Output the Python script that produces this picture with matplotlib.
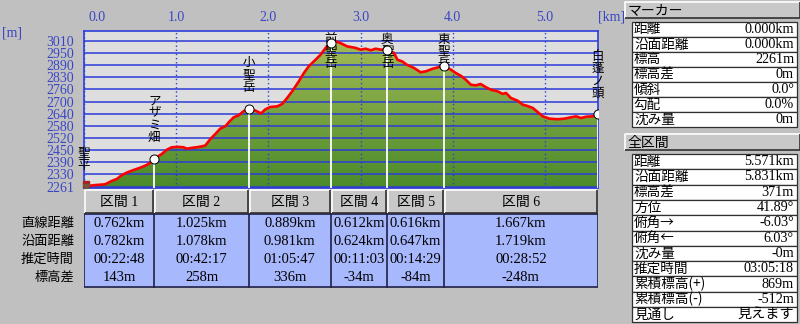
import numpy as np
import matplotlib
matplotlib.use("Agg")
import matplotlib.pyplot as plt
from matplotlib.patches import Rectangle, Polygon
from matplotlib.colors import LinearSegmentedColormap

plt.rcParams['font.family'] = ['Noto Sans CJK JP', 'DejaVu Sans']
SERIF = ['Liberation Serif', 'Noto Sans CJK JP']

# elevation profile (horizontal km, m)
dist = [0.0, 0.10, 0.23, 0.30, 0.355, 0.41, 0.464, 0.536, 0.609, 0.68, 0.736, 0.762,
        0.845, 0.90, 0.953, 1.025, 1.08, 1.115, 1.17, 1.26, 1.315, 1.37, 1.424, 1.478,
        1.533, 1.569, 1.623, 1.677, 1.73, 1.787,
        1.86, 1.92, 1.967, 2.02, 2.094, 2.148, 2.203, 2.257, 2.33, 2.384, 2.438, 2.51,
        2.565, 2.62, 2.676,
        2.728, 2.78, 2.855, 2.946, 3.0, 3.054, 3.11, 3.163, 3.217, 3.288, 3.362, 3.40,
        3.45, 3.50, 3.58, 3.65, 3.707, 3.78, 3.85, 3.904,
        3.98, 4.033, 4.087, 4.14, 4.196, 4.25, 4.30, 4.36, 4.41, 4.486, 4.54, 4.576,
        4.63, 4.703, 4.757, 4.81, 4.866, 4.92, 4.975, 5.047, 5.138, 5.21, 5.28, 5.337,
        5.39, 5.445, 5.518, 5.571]
elev = [2261, 2268, 2273, 2290, 2300, 2320, 2333, 2346, 2358, 2372, 2390, 2404,
        2429, 2451, 2463, 2465, 2463, 2456, 2460, 2466, 2472, 2505, 2531, 2559,
        2571, 2591, 2617, 2627, 2648, 2662,
        2651, 2637, 2658, 2670, 2673, 2685, 2716, 2750, 2802, 2844, 2879, 2912,
        2938, 2973, 2998,
        3007, 2998, 2981, 2973, 2964, 2969, 2961, 2969, 2964, 2966, 2947, 2912,
        2904, 2887, 2870, 2848, 2853, 2866, 2875, 2880,
        2861, 2844, 2830, 2810, 2784, 2781, 2788, 2771, 2759, 2750, 2737, 2742,
        2716, 2702, 2682, 2675, 2665, 2644, 2622, 2610, 2607, 2610, 2617, 2622,
        2613, 2620, 2622, 2632]

# waypoints and sections
wp_names = ['聖平', 'アザミ畑', '小聖岳', '前聖岳', '奥聖岳', '東聖岳', '白蓬ノ頭']
start_elev = 2261
sec_names = ['区間 1', '区間 2', '区間 3', '区間 4', '区間 5', '区間 6']
sec_km = [0.762, 1.025, 0.889, 0.612, 0.616, 1.667]
sec_surface_km = [0.782, 1.078, 0.981, 0.624, 0.647, 1.719]
sec_time = ['00:22:48', '00:42:17', '01:05:47', '00:11:03', '00:14:29', '00:28:52']
sec_dh = [143, 258, 336, -34, -84, -248]
row_labels = ['直線距離', '沿面距離', '推定時間', '標高差']

# axis labels
ytick_labels = ['2261', '2330', '2390', '2450', '2520', '2580', '2640', '2700',
                '2760', '2830', '2890', '2950', '3010']
xtick_vals = [0, 1, 2, 3, 4, 5]

# side panel
marker_title = 'マーカー'
marker_keys = ['距離', '沿面距離', '標高', '標高差', '傾斜', '勾配', '沈み量']
marker_vals = ['0.000km', '0.000km', '2261m', '0m', '0.0°', '0.0%', '0m']
total_title = '全区間'
total_keys = ['距離', '沿面距離', '標高差', '方位', '俯角→', '俯角←', '沈み量',
              '推定時間', '累積標高(+)', '累積標高(-)', '見通し']
total_vals = ['5.571km', '5.831km', '371m', '41.89°', '-6.03°', '6.03°', '-0m',
              '03:05:18', '869m', '-512m', '見えます']

W, H = 800, 324
BLUE = '#2c3cd8'
TICK_BLUE = '#3a46c4'
CELL_BLUE = '#a8b8fc'


def box(x0, y0, x1, y1):
    # pixel box (top-left origin) -> figure fraction
    return [x0 / W, 1 - y1 / H, (x1 - x0) / W, (y1 - y0) / H]


def bevel(a, x0, y0, x1, y1, face='#c8c8c8'):
    # raised windows-style button, y axis pointing down
    a.add_patch(Rectangle((x0, y0), x1 - x0, y1 - y0, facecolor=face, edgecolor='none'))
    a.plot([x0, x0, x1], [y1, y0, y0], color='white', lw=1.2, solid_capstyle='butt')
    a.plot([x0, x1, x1], [y1, y1, y0], color='#303030', lw=1.2, solid_capstyle='butt')


fig = plt.figure(figsize=(W / 100, H / 100), dpi=100, facecolor='#c0c0c0')

wp_dist = np.concatenate([[0], np.cumsum(sec_km)])
wp_elev = np.concatenate([[start_elev], start_elev + np.cumsum(sec_dh)])

# --- profile
ax = fig.add_axes(box(84, 31, 598, 188))
xmax, ymin, ymax = 5.574, 2254, 3060
ax.set_facecolor('#dedede')

cmap = LinearSegmentedColormap.from_list('ground', ['#4a8a2a', '#a8be58'])
grad = ax.imshow(np.linspace(1, 0, 256).reshape(-1, 1), extent=[0, xmax, ymin, ymax],
                 aspect='auto', cmap=cmap, vmin=0, vmax=1, zorder=1)
ground = Polygon(np.column_stack([np.r_[dist, dist[-1], dist[0]], np.r_[elev, ymin, ymin]]),
                 closed=True, facecolor='none', edgecolor='none')
ax.add_patch(ground)
grad.set_clip_path(ground)

yt = np.linspace(2261, 3010, len(ytick_labels))
for y in yt:
    ax.axhline(y, color=BLUE, lw=1.1, zorder=2)
for x in xtick_vals:
    ax.axvline(x, color=BLUE, lw=1, ls=(0, (1, 2)), zorder=2)

ax.vlines(wp_dist[1:], ymin, wp_elev[1:], color='white', lw=1.3, zorder=3)
ax.plot(dist, elev, color='#ff0000', lw=1.9, zorder=4)
ax.plot(wp_dist[1:], wp_elev[1:], 'o', ms=6.5, mfc='white', mec='black', mew=0.7, zorder=6)

# little hiker at the start
ax.plot(0.02, 2272, 's', ms=4, color='#a82020', zorder=7, clip_on=False)
ax.plot(0.02, 2258, 'v', ms=4, color='#705838', zorder=7, clip_on=False)

ax.set_xlim(0, xmax)
ax.set_ylim(ymin, ymax)
for s in ax.spines.values():
    s.set_color(BLUE)
    s.set_linewidth(1.2)
ax.set_xticks([])
ax.set_yticks(yt, ytick_labels, family=SERIF, color=TICK_BLUE, fontsize=10)
ax.tick_params(axis='y', length=0, pad=7)

for v in xtick_vals:
    dx = 9.5 if v == 0 else 0
    ax.annotate(f'{v:.1f}', xy=(v, 1), xycoords=('data', 'axes fraction'),
                xytext=(dx, 10), textcoords='offset points', ha='center', va='center',
                family=SERIF, color=TICK_BLUE, fontsize=10)
ax.annotate('[km]', xy=(1, 1), xycoords='axes fraction', xytext=(0, 10),
            textcoords='offset points', ha='left', va='center',
            family=SERIF, color=TICK_BLUE, fontsize=10)
fig.text(2 / W, 1 - 33 / H, '[m]', ha='left', va='center', family=SERIF,
         color=TICK_BLUE, fontsize=10)

# waypoint names, one character per line above the markers
top_disp = ax.transAxes.transform((0, 1))[1] - 2
char_h = 12.3
to_data = ax.transData.inverted()
for name, d, e in zip(wp_names, wp_dist, wp_elev):
    xd, yd = ax.transData.transform((d, e))
    top = yd + 15 + len(name) * char_h
    top = min(top, top_disp)
    for k, ch in enumerate(name):
        yc = to_data.transform((xd, top - (k + 0.5) * char_h))[1]
        ax.text(d, yc, ch, ha='center', va='center', fontsize=9, zorder=5, clip_on=False)

# --- section table under the profile
tab = fig.add_axes(box(84, 189, 598, 288))
tab.set_xlim(0, xmax)
tab.set_ylim(99, 0)
tab.axis('off')
kpx = xmax / (598 - 84)

tab.add_patch(Rectangle((0, 25), wp_dist[-1], 73, facecolor=CELL_BLUE,
                        edgecolor='#202048', lw=1.2))
for b in wp_dist[1:-1]:
    tab.plot([b, b], [25, 98], color='#202048', lw=1.2)

rows = [[f'{v:.3f}km' for v in sec_km],
        [f'{v:.3f}km' for v in sec_surface_km],
        sec_time,
        [f'{v}m' for v in sec_dh]]
row_y = [34.5, 52.5, 70.5, 88.5]
for i, name in enumerate(sec_names):
    x0, x1 = wp_dist[i], wp_dist[i + 1]
    bevel(tab, x0 + kpx, 1, x1 - kpx, 24)
    xc = (x0 + x1) / 2
    tab.text(xc, 13, name, ha='center', va='center', family=SERIF, fontsize=10)
    for r, y in zip(rows, row_y):
        tab.text(xc, y, r[i], ha='center', va='center', family=SERIF, fontsize=10.5)
for lab, y in zip(row_labels, row_y):
    tab.text(-10 * kpx, y, lab, ha='right', va='center', fontsize=9.5, clip_on=False)

# --- side panel
side = fig.add_axes(box(620, 0, 800, 324))
side.set_xlim(620, 800)
side.set_ylim(324, 0)
side.axis('off')


def info_block(title, keys, vals, top, row_h):
    bevel(side, 625, top, 799.5, top + 16)
    side.text(628, top + 8.5, title, ha='left', va='center', fontsize=10)
    y0 = top + 20
    for k, (key, val) in enumerate(zip(keys, vals)):
        y = y0 + k * row_h
        side.add_patch(Rectangle((632, y), 165, row_h, facecolor='white',
                                 edgecolor='#303030', lw=0.9))
        side.text(634, y + row_h / 2, key, ha='left', va='center', fontsize=9.8)
        side.text(794, y + row_h / 2, val, ha='right', va='center', family=SERIF,
                  fontsize=10.2)


info_block(marker_title, marker_keys, marker_vals, 2, 15)
info_block(total_title, total_keys, total_vals, 134, 15.3)

fig.savefig('out.png', dpi=100, facecolor=fig.get_facecolor())
